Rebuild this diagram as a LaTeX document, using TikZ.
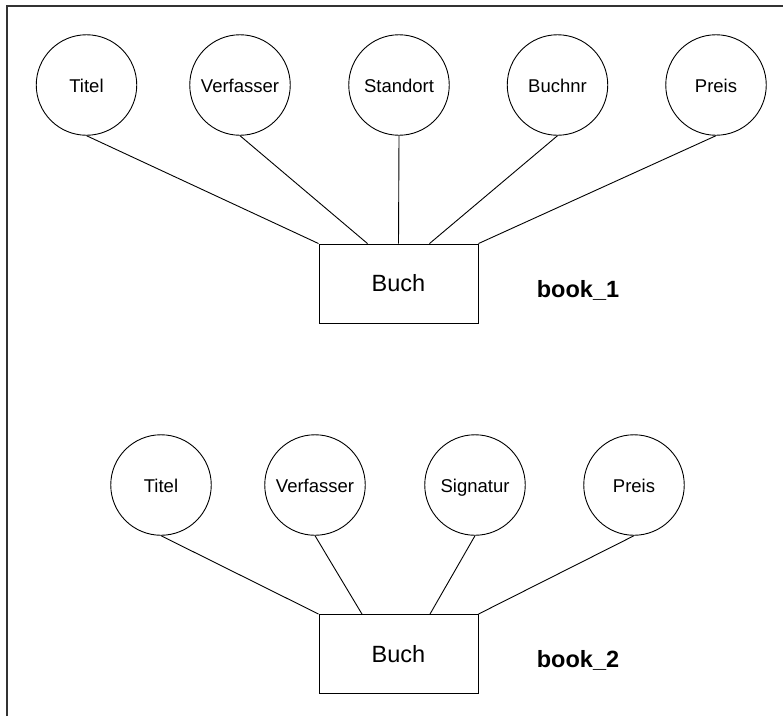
\documentclass[tikz,border=0pt]{standalone}
\usepackage{fontspec}
\setmainfont{Liberation Sans}
\begin{document}
\begin{tikzpicture}[x=1pt,y=-1pt,
  attr/.style={draw, circle, minimum size=100.5pt, inner sep=0pt, line width=0.9pt,
    text height=15pt, text depth=0pt, font=\fontsize{18.5}{20}\selectfont},
  entity/.style={draw, rectangle, line width=0.9pt, minimum width=159pt, minimum height=79pt, inner sep=0pt, font=\fontsize{23.5}{26}\selectfont},
  tag/.style={font=\fontsize{23.5}{26}\selectfont\bfseries},
  link/.style={line width=0.9pt}]
\useasboundingbox (0,0) rectangle (783,716);
% page frame (left and top edges)
\draw[line width=1.5pt, black!80] (7,716) -- (7,6) -- (783,6);

% first entity
\node[entity] (b1) at (398.5,283.5) {Buch};
\node[attr] (t1) at (86.5,85) {Titel};
\node[attr] (v1) at (240,85) {Verfasser};
\node[attr] (s1) at (399,85) {Standort};
\node[attr] (n1) at (557.5,85) {Buchnr};
\node[attr] (p1) at (716,85) {Preis};
\coordinate (b1a) at ([xshift=-31pt]b1.north);
\coordinate (b1b) at ([xshift=31pt]b1.north);
\draw[link] (t1.south) -- (b1.north west);
\draw[link] (v1.south) -- (b1a);
\draw[link] (s1.south) -- (b1.north);
\draw[link] (n1.south) -- (b1b);
\draw[link] (p1.south) -- (b1.north east);
\node[tag] (l1) at (578,290) {book\_1};

% second entity
\node[entity] (b2) at (398.5,654) {Buch};
\node[attr] (t2) at (161,485) {Titel};
\node[attr] (v2) at (315,485) {Verfasser};
\node[attr] (s2) at (475,485) {Signatur};
\node[attr] (p2) at (634,485) {Preis};
\coordinate (b2a) at ([xshift=-36.5pt]b2.north);
\coordinate (b2b) at ([xshift=31.5pt]b2.north);
\draw[link] (t2.south) -- (b2.north west);
\draw[link] (v2.south) -- (b2a);
\draw[link] (s2.south) -- (b2b);
\draw[link] (p2.south) -- (b2.north east);
\node[tag] (l2) at (578,660) {book\_2};
\end{tikzpicture}
\end{document}
